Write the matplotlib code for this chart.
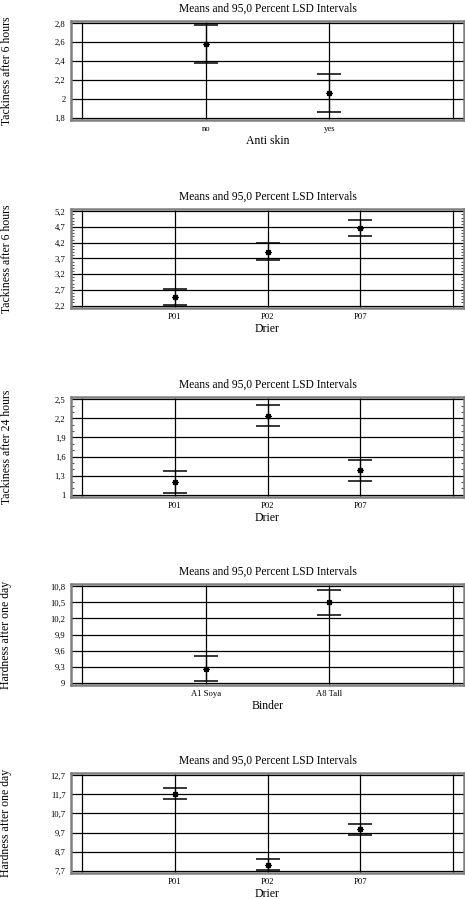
import numpy as np
import matplotlib
matplotlib.use("Agg")
import matplotlib.pyplot as plt
from matplotlib.ticker import FuncFormatter, MultipleLocator

plt.rcParams['font.family'] = ['Liberation Serif', 'DejaVu Serif']

# Data (means and LSD half widths)
anti_skin = ['no', 'yes']
tack6_skin_mean = [2.58, 2.06]
tack6_skin_half = [0.20, 0.20]

drier = ['P01', 'P02', 'P07']
tack6_drier_mean = [2.48, 3.92, 4.66]
tack6_drier_half = [0.26, 0.26, 0.25]

tack24_drier_mean = [1.20, 2.245, 1.38]
tack24_drier_half = [0.17, 0.17, 0.17]

binder = ['A1 Soya', 'A8 Tall']
hard_binder_mean = [9.26, 10.50]
hard_binder_half = [0.23, 0.23]

hard_drier_mean = [11.73, 8.00, 9.88]
hard_drier_half = [0.29, 0.29, 0.29]

panels = [
    (anti_skin, tack6_skin_mean, tack6_skin_half, 'Anti skin', 'Tackiness after 6 hours', (1.8, 2.8, 0.2), None),
    (drier, tack6_drier_mean, tack6_drier_half, 'Drier', 'Tackiness after 6 hours', (2.2, 5.2, 0.5), 0.1),
    (drier, tack24_drier_mean, tack24_drier_half, 'Drier', 'Tackiness after 24 hours', (1.0, 2.5, 0.3), 0.1),
    (binder, hard_binder_mean, hard_binder_half, 'Binder', 'Hardness after one day', (9.0, 10.8, 0.3), None),
    (drier, hard_drier_mean, hard_drier_half, 'Drier', 'Hardness after one day', (7.7, 12.7, 1.0), None),
]

# axes top/bottom in pixels
boxes = [(21, 120), (209, 308), (397, 497), (584, 685), (773, 873)]

W, H = 465, 899
fig = plt.figure(figsize=(W / 100, H / 100), dpi=100)


def komma(v, pos):
    s = '%g' % round(v, 3)
    return s.replace('.', ',')


for (cats, means, half, xlab, ylab, yt, minor), (top, bot) in zip(panels, boxes):
    ax = fig.add_axes([71 / W, 1 - bot / H, 393 / W, (bot - top) / H])
    n = len(cats)
    lo, hi, step = yt
    ticks = np.arange(lo, hi + step / 2, step)
    m = (hi - lo) * 0.025
    ax.set_ylim(lo - m, hi + m)
    ax.set_xlim(-0.09 * (n + 1) / 3, (n + 1) + 0.09 * (n + 1) / 3)

    # grid lines
    for t in ticks:
        ax.axhline(t, color='black', lw=0.9, zorder=1)
    for k in range(n + 2):
        ax.axvline(k, color='black', lw=0.9, zorder=1)

    xs = np.arange(1, n + 1)
    ax.errorbar(xs, means, yerr=half, fmt='none', ecolor='black',
                elinewidth=0.9, capsize=8.5, capthick=1.1, zorder=2)
    ax.plot(xs, means, linestyle='none', marker=(8, 2, 0), markersize=4.5,
            markeredgewidth=0.9, color='black', zorder=3)

    ax.set_xticks(xs)
    ax.set_xticklabels(cats, fontsize=6)
    ax.set_yticks(ticks)
    ax.yaxis.set_major_formatter(FuncFormatter(komma))
    ax.tick_params(axis='both', length=0, labelsize=6.2, pad=4)
    ax.tick_params(axis='x', pad=3.5)
    if minor:
        ax.yaxis.set_minor_locator(MultipleLocator(minor))
        ax.tick_params(axis='y', which='minor', direction='in', length=2.5,
                       width=0.8, left=True, right=True, color='#555555')

    for sp in ax.spines.values():
        sp.set_color('#808080')
        sp.set_linewidth(1.8)

    ax.set_title('Means and 95,0 Percent LSD Intervals', fontsize=8.3, pad=7)
    ax.set_xlabel(xlab, fontsize=8.5, labelpad=1.8)
    fig.text(0.5 / W, 1 - (top + bot) / 2 / H, ylab, rotation=90,
             ha='left', va='center', fontsize=8.5)

fig.savefig('out.png', dpi=100)
